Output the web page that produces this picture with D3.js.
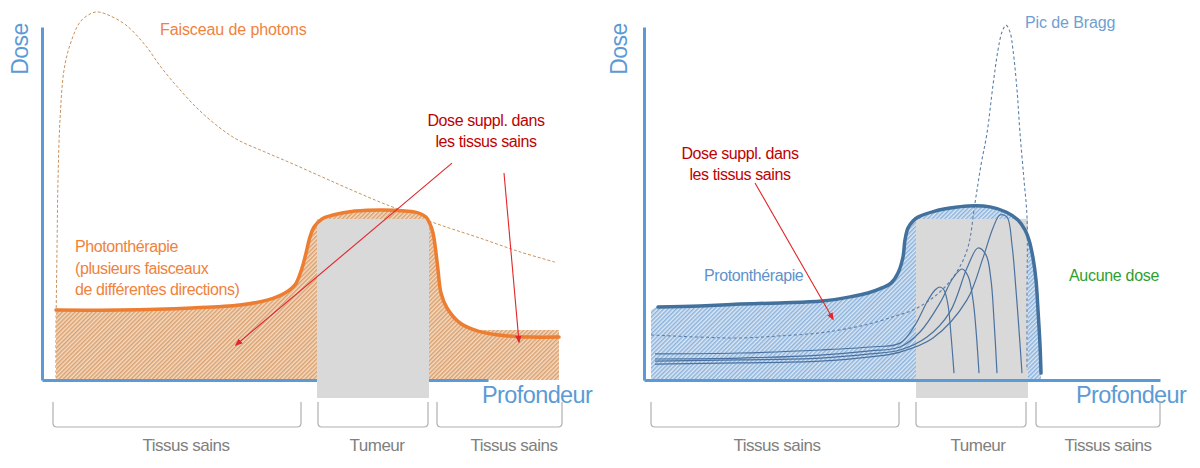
<!DOCTYPE html>
<html>
<head>
<meta charset="utf-8">
<script src="https://cdn.jsdelivr.net/npm/d3@7"></script>
<style>
  body { margin: 0; background: #fff; }
  svg { display: block; font-family: "Liberation Sans", Arial, sans-serif; }
</style>
</head>
<body>
<div id="chart"></div>
<script>
// Photons vs protons : dose en fonction de la profondeur (schéma)
// depth units 0..260, dose units 0..120 (arbitrary)

const photonBeam = [
  [7, 0.7], [7, 16.7], [7.5, 43.3], [8, 66.7], [9, 86.7], [11, 103.3], [14, 111.7],
  [19, 119.3], [24, 122], [27.5, 122.7], [33, 121.7], [42, 118.3], [51.5, 111.7],
  [59.5, 104.3], [69, 96.7], [78.5, 90], [89, 84], [98, 80], [111.5, 76], [124.5, 72.3],
  [139, 68], [151.5, 64.3], [166.5, 60], [179, 56.7], [199, 51.7], [219, 47.3],
  [239, 42.7], [256.5, 39.3]
];

const photonTherapy = [
  [7, 23.3], [39, 23.3], [75, 24], [99, 25], [113, 26.7], [121.5, 29], [126.5, 31.7],
  [130, 37.3], [132, 42.3], [134, 47.7], [136, 51], [140, 53.7], [145.5, 55],
  [156.5, 56.3], [170.5, 56.7], [181.5, 56.3], [188, 55.7], [192, 54.3], [194, 52],
  [195.5, 49], [196.5, 45], [198, 36.7], [199.5, 29], [202.5, 24], [209, 19],
  [218, 16.3], [228, 15], [244, 14.3], [258.5, 14.3]
];
const photonTail = [[196, 16.7], [258.5, 16.7]];   // hatched block behind the tail

const protonTherapy = [
  [7, 24.3], [28, 24.7], [48, 25.3], [68, 25.7], [89, 26.3], [103, 27.7], [112, 29],
  [119, 30.7], [123.5, 32.3], [127, 35.7], [129.5, 41], [130.5, 46.7], [132, 50.7],
  [134.5, 53], [137, 54.3], [145.5, 56.3], [153, 57.3], [162, 58], [173, 57.7],
  [181, 56], [187, 53.3], [190.5, 50], [192.5, 46.7], [194.5, 40.7], [196, 33.3],
  [197, 23.3], [198, 11.7], [198.5, 2.3]
];

const braggPeak = [
  [3.5, 15], [28, 14.3], [48, 14], [68, 14.7], [88, 15.7], [103, 17.3], [114.5, 19],
  [125.5, 21.3], [134.5, 23.3], [143, 26.7], [150.5, 31], [157, 36.7], [162, 44.3],
  [165.5, 59], [168.5, 71.7], [171.5, 82.3], [174.5, 98.3], [177, 110], [179, 116],
  [181, 118.3], [183, 116], [184.5, 110], [186.5, 96.7], [188, 82.3], [190, 66.7],
  [191.5, 54.3], [191.5, 26.7], [191.5, 3.3]
];

const braggA = [[5.5, 8.7], [48, 9], [88, 10], [113, 11], [128, 12.3], [135.5, 18.3], [141.5, 26],
  [145.5, 30], [148, 31], [150, 30], [152, 25], [153.5, 15], [155, 2.3]];
const braggB = [[5.5, 7], [48, 7.3], [88, 8.3], [113, 9.7], [128, 11], [138, 16], [148, 25.7],
  [154.5, 34], [159, 37], [162, 34.7], [164.5, 26.7], [166, 16.7], [167.5, 2.3]];
const braggC = [[5.5, 6.3], [48, 6.7], [88, 7.3], [113, 8.7], [128, 10], [141.5, 14.3], [153, 22.7],
  [161.5, 37.3], [167, 44], [171, 41.7], [173.5, 33.3], [175, 20], [176.5, 2.3]];
const braggD = [[5.5, 5.3], [48, 5.7], [88, 6.3], [113, 7.7], [128, 9.3], [144.5, 14], [161.5, 26.7],
  [169.5, 40.7], [174.5, 50.7], [178, 55], [181.5, 54.3], [184, 45], [186, 30], [187.5, 16.7], [189, 2.3]];

// tumour zone [depth0, depth1, top dose, bottom dose]
const tumourLeft  = [137.5, 193.5, 53.7, -6];
const tumourRight = [136, 192, 53.7, -6];

const regionLabels   = ["Tissus sains", "Tumeur", "Tissus sains"];
const bracketsLeft   = [[5.5, 129.5], [138, 193], [197.5, 260]];
const bracketsRight  = [[3.5, 127.5], [136, 191], [196, 258]];
const labelDepthLeft  = [72, 167.5, 236];
const labelDepthRight = [66.5, 167, 232];

const AXIS_END_LEFT  = 223;
const AXIS_END_RIGHT = 258;
const AXIS_TOP = 117.7;

(function () {
  const W = 1200, H = 468;

  const C_AXIS   = "#5b9bd5";
  const C_ORANGE = "#ed7d31";
  const C_OTEXT  = "#f0823c";
  const C_BLUE   = "#41719c";
  const C_RED    = "#e3262b";
  const C_RTEXT  = "#c00000";
  const C_GREY   = "#d9d9d9";
  const C_LABEL  = "#808080";

  const xL = d3.scaleLinear().domain([0, 260]).range([42, 562]);
  const xR = d3.scaleLinear().domain([0, 260]).range([644, 1164]);
  const y  = d3.scaleLinear().domain([0, 120]).range([380, 20]);

  const svg = d3.select("#chart").append("svg")
    .attr("width", W).attr("height", H);

  // ── hatch patterns ──
  const defs = svg.append("defs");
  function hatch(id, bg, fg) {
    const p = defs.append("pattern").attr("id", id)
      .attr("patternUnits", "userSpaceOnUse")
      .attr("width", 3).attr("height", 3)
      .attr("patternTransform", "rotate(45)");
    p.append("rect").attr("width", 3).attr("height", 3).attr("fill", bg);
    p.append("rect").attr("x", 0).attr("width", 1.5).attr("height", 3).attr("fill", fg);
  }
  hatch("hatch-o", "#f6dcc2", "#d8a070");
  hatch("hatch-b", "#dce9f6", "#8db2da");

  defs.append("marker").attr("id", "arrow")
    .attr("viewBox", "0 0 10 10").attr("refX", 8).attr("refY", 5)
    .attr("markerWidth", 7).attr("markerHeight", 7).attr("orient", "auto-start-reverse")
    .append("path").attr("d", "M0,1 L10,5 L0,9 Z").attr("fill", C_RED);

  const smooth = x => d3.line().x(d => x(d[0])).y(d => y(d[1])).curve(d3.curveCatmullRom.alpha(0.5));
  const area = x => d3.area().x(d => x(d[0])).y0(y(0)).y1(d => y(d[1])).curve(d3.curveCatmullRom.alpha(0.5));

  function axes(x, end) {
    svg.append("g")
      .attr("transform", `translate(0,${y(0)})`)
      .call(d3.axisBottom(d3.scaleLinear().domain([0, end]).range([x(0), x(end)])).ticks(0).tickSizeOuter(0))
      .call(g => g.select(".domain").attr("stroke", C_AXIS).attr("stroke-width", 3));
    svg.append("g")
      .attr("transform", `translate(${x(0)},0)`)
      .call(d3.axisLeft(d3.scaleLinear().domain([0, AXIS_TOP]).range([y(0), y(AXIS_TOP)])).ticks(0).tickSizeOuter(0))
      .call(g => g.select(".domain").attr("stroke", C_AXIS).attr("stroke-width", 3));
  }

  function brackets(x, spans, centres) {
    const top = 402, bot = 427, r = 4;
    spans.forEach(([a, b]) => {
      const x0 = x(a), x1 = x(b);
      svg.append("path")
        .attr("d", `M${x0},${top} L${x0},${bot - r} Q${x0},${bot} ${x0 + r},${bot} L${x1 - r},${bot} Q${x1},${bot} ${x1},${bot - r} L${x1},${top}`)
        .attr("fill", "none").attr("stroke", "#b0b0b0").attr("stroke-width", 1.2);
    });
    centres.forEach((c, i) => {
      svg.append("text").attr("x", x(c)).attr("y", 451)
        .attr("text-anchor", "middle").attr("font-size", 17).attr("letter-spacing", -0.5)
        .attr("fill", C_LABEL).text(regionLabels[i]);
    });
  }

  function axisTitles(xDose, xProf) {
    svg.append("text").attr("transform", `translate(${xDose},49) rotate(-90)`)
      .attr("text-anchor", "middle").attr("font-size", 23).attr("letter-spacing", -0.5)
      .attr("fill", C_AXIS).text("Dose");
    svg.append("text").attr("x", xProf).attr("y", 403)
      .attr("font-size", 23.5).attr("letter-spacing", -0.6)
      .attr("fill", C_AXIS).text("Profondeur");
  }

  function multiline(lines, x, y0, dy, colour, anchor) {
    const t = svg.append("text").attr("font-size", 16).attr("letter-spacing", -0.4)
      .attr("fill", colour).attr("text-anchor", anchor);
    lines.forEach((s, i) => t.append("tspan").attr("x", x).attr("y", y0 + i * dy).text(s));
  }

  function arrow(x, from, to) {
    svg.append("line")
      .attr("x1", x(from[0])).attr("y1", y(from[1]))
      .attr("x2", x(to[0])).attr("y2", y(to[1]))
      .attr("stroke", C_RED).attr("stroke-width", 1.1)
      .attr("marker-end", "url(#arrow)");
  }

  // ══ Left panel : photons ══
  svg.append("path").datum(photonBeam)
    .attr("d", smooth(xL)).attr("fill", "none")
    .attr("stroke", "#c9925c").attr("stroke-width", 1).attr("stroke-dasharray", "3,2");

  svg.append("path").datum(photonTherapy).attr("d", area(xL)).attr("fill", "url(#hatch-o)");
  svg.append("path").datum(photonTail)
    .attr("d", d3.area().x(d => xL(d[0])).y0(y(0)).y1(d => y(d[1]))).attr("fill", "url(#hatch-o)");

  axes(xL, AXIS_END_LEFT);

  svg.append("rect")
    .attr("x", xL(tumourLeft[0])).attr("width", xL(tumourLeft[1]) - xL(tumourLeft[0]))
    .attr("y", y(tumourLeft[2])).attr("height", y(tumourLeft[3]) - y(tumourLeft[2]))
    .attr("fill", C_GREY);

  svg.append("path").datum(photonTherapy)
    .attr("d", smooth(xL)).attr("fill", "none")
    .attr("stroke", C_ORANGE).attr("stroke-width", 3.5).attr("stroke-linecap", "round");

  arrow(xL, [205, 72.3], [97, 11.7]);
  arrow(xL, [231, 69], [238.5, 12.7]);

  svg.append("text").attr("x", 160).attr("y", 35).attr("font-size", 16).attr("letter-spacing", -0.1)
    .attr("fill", C_OTEXT).text("Faisceau de photons");
  multiline(["Photonthérapie", "(plusieurs faisceaux", "de différentes directions)"], 75, 252, 21.5, C_OTEXT, "start");
  multiline(["Dose suppl. dans", "les tissus sains"], 486, 126, 21, C_RTEXT, "middle");

  axisTitles(28, 482);
  brackets(xL, bracketsLeft, labelDepthLeft);

  // ══ Right panel : protons ══
  svg.append("path").datum([[3.5, 23.3]].concat(protonTherapy))
    .attr("d", area(xR)).attr("fill", "url(#hatch-b)");

  svg.append("rect")
    .attr("x", xR(tumourRight[0])).attr("width", xR(tumourRight[1]) - xR(tumourRight[0]))
    .attr("y", y(tumourRight[2])).attr("height", y(tumourRight[3]) - y(tumourRight[2]))
    .attr("fill", C_GREY);

  axes(xR, AXIS_END_RIGHT);

  svg.append("path").datum(braggPeak)
    .attr("d", smooth(xR)).attr("fill", "none")
    .attr("stroke", "#5b7fa8").attr("stroke-width", 1.1).attr("stroke-dasharray", "3,2.5");

  [braggA, braggB, braggC, braggD].forEach(s => {
    svg.append("path").datum(s)
      .attr("d", smooth(xR)).attr("fill", "none")
      .attr("stroke", "#4a72a0").attr("stroke-width", 1.2);
  });

  svg.append("path").datum(protonTherapy)
    .attr("d", smooth(xR)).attr("fill", "none")
    .attr("stroke", C_BLUE).attr("stroke-width", 3.5).attr("stroke-linecap", "round");

  arrow(xR, [55.5, 65.7], [94.5, 20.3]);

  svg.append("text").attr("x", 1025).attr("y", 28).attr("font-size", 16).attr("letter-spacing", -0.1)
    .attr("fill", "#6f9fd2").text("Pic de Bragg");
  multiline(["Dose suppl. dans", "les tissus sains"], 740, 159, 21, C_RTEXT, "middle");
  svg.append("text").attr("x", 704).attr("y", 281).attr("font-size", 16).attr("letter-spacing", -0.4)
    .attr("fill", "#5f92cc").text("Protonthérapie");
  svg.append("text").attr("x", 1069).attr("y", 281).attr("font-size", 16).attr("letter-spacing", -0.3)
    .attr("fill", "#2f9e2f").text("Aucune dose");

  axisTitles(627, 1076);
  brackets(xR, bracketsRight, labelDepthRight);
})();
</script>
</body>
</html>
